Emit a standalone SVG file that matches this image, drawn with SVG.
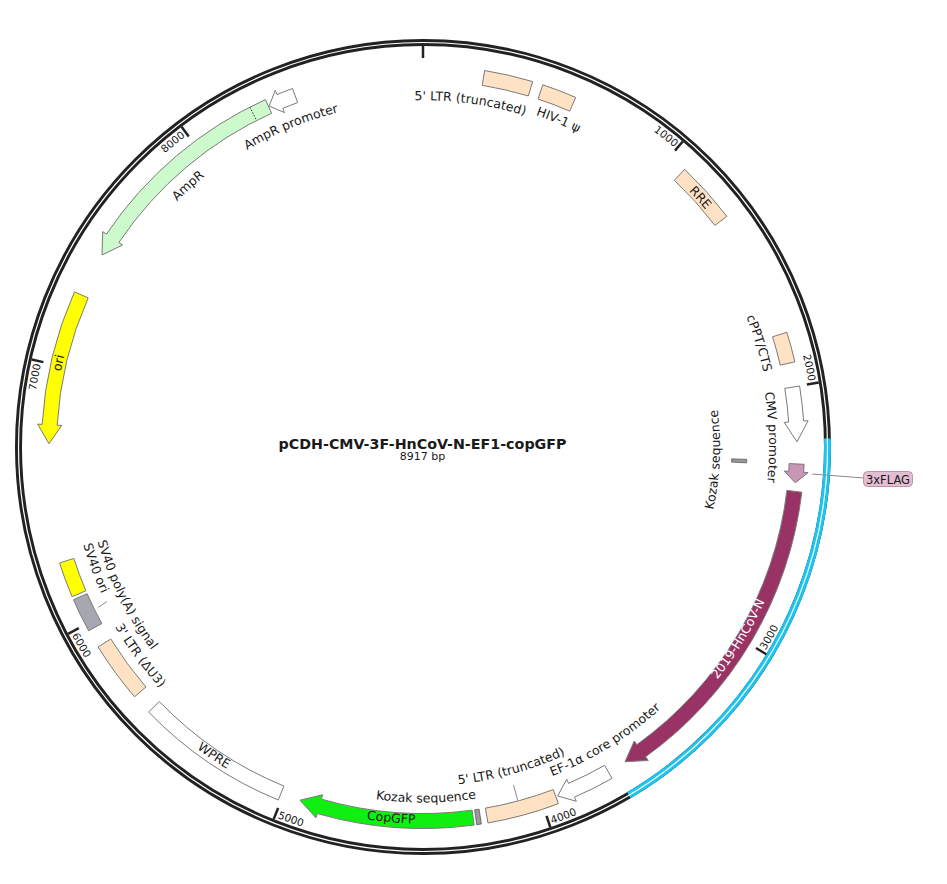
<svg xmlns="http://www.w3.org/2000/svg" xmlns:xlink="http://www.w3.org/1999/xlink" width="947" height="884" viewBox="0 0 947 884">
<style>
text{font-family:"DejaVu Sans",Verdana,sans-serif;fill:#1a1a1a}
.lbl{font-size:12.5px}
.tk{font-size:10.5px}
.feat{stroke:#7a7a7a;stroke-width:1}
.beige{fill:#ffe2c4}
.white{fill:#ffffff}
.tick{stroke:#222;stroke-width:2.5}
.lead{stroke:#8a8a8a;stroke-width:1;fill:none}
</style>
<defs>
<path id="t1000" d="M526.83,70.04 A391,391 0 0 1 674.33,147.48"/>
<path id="t2000" d="M746.01,226.66 A391,391 0 0 1 808.47,381.46"/>
<path id="t7000" d="M41.12,530.96 A391,391 0 0 1 40.83,364.37"/>
<path id="t8000" d="M77.77,263.44 A391,391 0 0 1 185.51,136.39"/>
<path id="t3000" d="M765.59,650.51 A398.5,398.5 0 0 0 819.32,488.66"/>
<path id="t4000" d="M552.08,824.02 A398.5,398.5 0 0 0 699.82,733.66"/>
<path id="t5000" d="M277.25,817.89 A398.5,398.5 0 0 0 450.80,844.53"/>
<path id="t6000" d="M71.80,635.31 A398.5,398.5 0 0 0 183.17,765.26"/>
<path id="pa" d="M292.19,125.82 A346.8,346.8 0 0 1 635.80,173.16"/>
<path id="pb" d="M377.25,99.50 A350.5,350.5 0 0 1 701.07,233.63"/>
<path id="pc" d="M537.33,96.16 A369,369 0 0 1 784.00,370.59"/>
<path id="pd" d="M660.00,191.49 A348.5,348.5 0 0 1 762.77,524.51"/>
<path id="pe" d="M717.70,265.70 A346,346 0 0 1 727.36,611.56"/>
<path id="pf" d="M149.42,236.32 A345.3,345.3 0 0 1 468.67,104.73"/>
<path id="pg" d="M92.32,339.23 A347.8,347.8 0 0 1 350.98,106.74"/>
<path id="ph" d="M69.17,555.18 A370,370 0 0 1 152.40,194.66"/>
<path id="pi" d="M603.08,775.93 A375,375 0 0 0 797.90,455.51"/>
<path id="pj" d="M434.41,800.32 A353.5,353.5 0 0 0 734.70,613.74"/>
<path id="pk" d="M337.55,775.05 A339,339 0 0 0 664.38,685.03"/>
<path id="pl" d="M247.94,756.41 A355.5,355.5 0 0 0 603.43,753.31"/>
<path id="pm" d="M207.59,755.79 A376.5,376.5 0 0 0 582.71,787.95"/>
<path id="pn" d="M83.87,611.67 A377,377 0 0 0 396.04,823.03"/>
<path id="po" d="M68.72,486.74 A356.5,356.5 0 0 0 280.28,773.68"/>
<path id="pp" d="M84.63,426.30 A339,339 0 0 0 235.89,729.69"/>
<path id="pq" d="M74.55,387.44 A353.5,353.5 0 0 0 197.20,718.98"/>
<path id="pr" d="M673.49,606.58 A297,297 0 0 0 686.44,309.86"/>
</defs>
<rect width="947" height="884" fill="#ffffff"/>

<g id="backbone">
<circle cx="423" cy="447" r="404.5" fill="none" stroke="#222" stroke-width="7"/>
<path d="M827.41,438.53 A404.5,404.5 0 0 1 628.91,795.17" fill="none" stroke="#1cc4f0" stroke-width="7"/>
<circle cx="423" cy="447" r="404.5" fill="none" stroke="#ffffff" stroke-width="1.2"/>
<line class="tick" x1="423" y1="46" x2="423" y2="58"/>
<line class="tick" x1="682.75" y1="141.49" x2="674.98" y2="150.63"/>
<line class="tick" x1="818.78" y1="382.51" x2="806.94" y2="384.44"/>
<line class="tick" x1="766.30" y1="654.23" x2="756.03" y2="648.03"/>
<line class="tick" x1="550.32" y1="827.27" x2="546.51" y2="815.89"/>
<line class="tick" x1="273.68" y1="819.16" x2="278.14" y2="808.02"/>
<line class="tick" x1="68.17" y1="633.81" x2="78.79" y2="628.22"/>
<line class="tick" x1="31.67" y1="359.48" x2="43.38" y2="362.10"/>
<line class="tick" x1="181.55" y1="126.83" x2="188.78" y2="136.41"/>
<text class="tk"><textPath xlink:href="#t1000" startOffset="100%" text-anchor="end">1000</textPath></text>
<text class="tk"><textPath xlink:href="#t2000" startOffset="100%" text-anchor="end">2000</textPath></text>
<text class="tk"><textPath xlink:href="#t7000" startOffset="100%" text-anchor="end">7000</textPath></text>
<text class="tk"><textPath xlink:href="#t8000" startOffset="100%" text-anchor="end">8000</textPath></text>
<text class="tk"><textPath xlink:href="#t3000">3000</textPath></text>
<text class="tk"><textPath xlink:href="#t4000">4000</textPath></text>
<text class="tk"><textPath xlink:href="#t5000">5000</textPath></text>
<text class="tk"><textPath xlink:href="#t6000">6000</textPath></text>
</g>

<g id="connectors">
<line class="lead" x1="812" y1="474" x2="864" y2="478"/>
<line class="lead" x1="517.73" y1="800.53" x2="513.59" y2="785.08"/>
<line class="lead" x1="98.3" y1="607.3" x2="106.7" y2="601.7"/>
</g>

<g id="title">
<text x="422.5" y="449" font-size="14" font-weight="bold" text-anchor="middle" textLength="288" lengthAdjust="spacingAndGlyphs">pCDH-CMV-3F-HnCoV-N-EF1-copGFP</text>
<text x="422.5" y="459.5" font-size="11" text-anchor="middle">8917 bp</text>
</g>

<g id="ltr5-top">
<path class="feat beige" d="M484.65,70.51 A381.5,381.5 0 0 1 532.63,81.59 L528.32,95.96 A366.5,366.5 0 0 0 482.23,85.32 Z"/>
<text class="lbl"><textPath xlink:href="#pa" startOffset="50%" text-anchor="middle">5' LTR (truncated)</textPath></text>
</g>
<g id="hiv-psi">
<path class="feat beige" d="M542.79,84.79 A381.5,381.5 0 0 1 575.73,97.41 L569.73,111.15 A366.5,366.5 0 0 0 538.08,99.03 Z"/>
<text class="lbl"><textPath xlink:href="#pb" startOffset="50%" text-anchor="middle">HIV-1 ψ</textPath></text>
</g>
<g id="rre">
<path class="feat beige" d="M684.64,169.36 A381.5,381.5 0 0 1 726.88,216.35 L714.93,225.41 A366.5,366.5 0 0 0 674.35,180.27 Z"/>
<text class="lbl"><textPath xlink:href="#pc" startOffset="50%" text-anchor="middle">RRE</textPath></text>
</g>
<g id="cppt">
<path class="feat beige" d="M786.84,332.28 A381.5,381.5 0 0 1 794.87,361.83 L780.25,365.18 A366.5,366.5 0 0 0 772.54,336.79 Z"/>
<text class="lbl"><textPath xlink:href="#pd" startOffset="50%" text-anchor="middle">cPPT/CTS</textPath></text>
</g>
<g id="cmv">
<path class="feat white" d="M799.59,386.01 A381.5,381.5 0 0 1 803.62,421.05 L808.10,420.74 L796.96,441.78 L784.16,422.38 L788.65,422.07 A366.5,366.5 0 0 0 784.79,388.40 Z"/>
<text class="lbl"><textPath xlink:href="#pe" startOffset="50%" text-anchor="middle">CMV promoter</textPath></text>
</g>
<g id="flag">
<path class="feat" fill="#c996b4" d="M804.11,464.31 A381.5,381.5 0 0 1 803.66,472.28 L808.15,472.58 L795.28,482.85 L784.20,470.99 L788.69,471.29 A366.5,366.5 0 0 0 789.12,463.62 Z"/>
<rect x="863.5" y="471.5" width="49" height="15" rx="4" fill="#e3bdd2" stroke="#b994aa" stroke-width="1"/>
<text x="888" y="483.5" font-size="11.5" text-anchor="middle">3xFLAG</text>
</g>
<g id="kozak-1">
<path fill="#9a9a9a" stroke="#555" stroke-width="0.8" d="M731.77,458.86 L746.76,459.44 L746.61,462.83 L731.63,462.09 Z"/>
<text class="lbl"><textPath xlink:href="#pr" startOffset="50%" text-anchor="middle">Kozak sequence</textPath></text>
</g>
<g id="hncov-n">
<path class="feat" fill="#993366" stroke="#444" d="M801.82,492.17 A381.5,381.5 0 0 1 645.62,756.81 L648.25,760.46 L625.05,761.72 L634.24,740.97 L636.87,744.63 A366.5,366.5 0 0 0 786.92,490.39 Z"/>
<text class="lbl" style="fill:#ffffff"><textPath xlink:href="#pi" startOffset="50%" text-anchor="middle">2019-HnCoV-N</textPath></text>
</g>
<g id="ef1a">
<path class="feat white" d="M612.02,778.38 A381.5,381.5 0 0 1 574.51,797.12 L576.30,801.25 L557.64,795.92 L566.77,779.23 L568.56,783.36 A366.5,366.5 0 0 0 604.59,765.35 Z"/>
<text class="lbl"><textPath xlink:href="#pj" startOffset="50%" text-anchor="middle">EF-1α core promoter</textPath></text>
</g>
<g id="ltr5-bottom">
<path class="feat beige" d="M558.47,803.64 A381.5,381.5 0 0 1 487.94,822.93 L485.38,808.15 A366.5,366.5 0 0 0 553.15,789.61 Z"/>
<text class="lbl"><textPath xlink:href="#pk" startOffset="50%" text-anchor="middle">5' LTR (truncated)</textPath></text>
</g>
<g id="kozak-2">
<path fill="#9a9a9a" stroke="#555" stroke-width="0.8" d="M481.37,824.01 A381.5,381.5 0 0 1 476.75,824.69 L474.64,809.84 A366.5,366.5 0 0 0 479.07,809.19 Z"/>
<text class="lbl"><textPath xlink:href="#pl" startOffset="50%" text-anchor="middle">Kozak sequence</textPath></text>
</g>
<g id="copgfp">
<path class="feat" fill="#11ee11" d="M474.12,825.06 A381.5,381.5 0 0 1 317.21,813.54 L315.96,817.86 L300.00,800.20 L322.61,794.80 L321.37,799.13 A366.5,366.5 0 0 0 472.11,810.19 Z"/>
<text class="lbl"><textPath xlink:href="#pm" startOffset="50%" text-anchor="middle">CopGFP</textPath></text>
</g>
<g id="wpre">
<path class="feat white" d="M278.24,799.97 A381.5,381.5 0 0 1 148.57,712.01 L159.36,701.59 A366.5,366.5 0 0 0 283.93,786.09 Z"/>
<text class="lbl"><textPath xlink:href="#pn" startOffset="50%" text-anchor="middle">WPRE</textPath></text>
</g>
<g id="ltr3">
<path class="feat beige" d="M134.64,696.78 A381.5,381.5 0 0 1 98.06,646.90 L110.84,639.04 A366.5,366.5 0 0 0 145.98,686.96 Z"/>
<text class="lbl"><textPath xlink:href="#po" startOffset="50%" text-anchor="middle">3' LTR (ΔU3)</textPath></text>
</g>
<g id="sv40-ori">
<path class="feat" fill="#a5a8b0" d="M88.69,630.79 A381.5,381.5 0 0 1 73.41,599.73 L87.15,593.73 A366.5,366.5 0 0 0 101.83,623.56 Z"/>
<text class="lbl"><textPath xlink:href="#pq" startOffset="50%" text-anchor="middle">SV40 ori</textPath></text>
</g>
<g id="sv40-pa">
<path class="feat" fill="#ffff00" d="M72.09,596.68 A381.5,381.5 0 0 1 59.56,562.99 L73.85,558.43 A366.5,366.5 0 0 0 85.89,590.79 Z"/>
<text class="lbl"><textPath xlink:href="#pp" startOffset="50%" text-anchor="middle">SV40 poly(A) signal</textPath></text>
</g>
<g id="ori">
<path class="feat" fill="#ffff00" d="M74.48,291.83 A381.5,381.5 0 0 0 42.17,424.37 L37.68,424.11 L49.01,443.73 L61.64,425.53 L57.15,425.26 A366.5,366.5 0 0 1 88.18,297.93 Z"/>
<text class="lbl"><textPath xlink:href="#ph" startOffset="50%" text-anchor="middle">ori</textPath></text>
</g>
<g id="ampr">
<path class="feat" fill="#ccfacc" d="M265.40,99.58 A381.5,381.5 0 0 0 106.41,234.13 L102.68,231.62 L102.07,254.95 L122.59,245.01 L118.86,242.50 A366.5,366.5 0 0 1 271.60,113.24 Z"/>
<line x1="249.8" y1="107.08" x2="256.61" y2="120.44" stroke="#333" stroke-width="1" stroke-dasharray="1.5,1.5"/>
<text class="lbl"><textPath xlink:href="#pg" startOffset="50%" text-anchor="middle">AmpR</textPath></text>
</g>
<g id="ampr-promoter">
<path class="feat white" d="M292.52,88.51 A381.5,381.5 0 0 0 277.01,94.54 L275.29,90.38 L269.10,106.14 L284.47,112.56 L282.75,108.40 A366.5,366.5 0 0 1 297.65,102.60 Z"/>
<text class="lbl"><textPath xlink:href="#pf" startOffset="50%" text-anchor="middle">AmpR promoter</textPath></text>
</g>
</svg>
